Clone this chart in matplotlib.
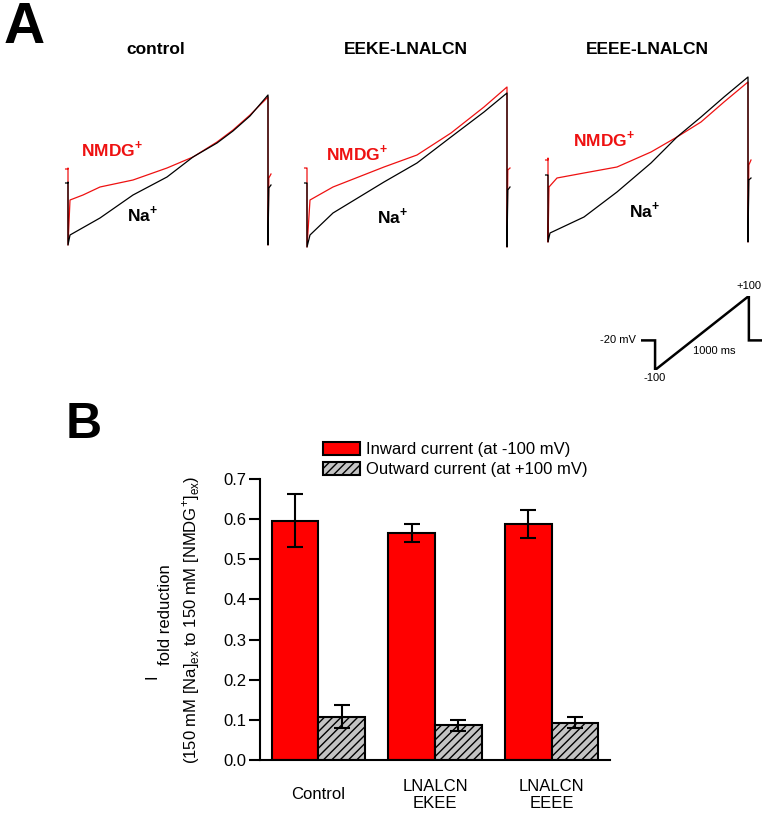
import numpy as np
import matplotlib
matplotlib.use("Agg")
import matplotlib.pyplot as plt

plt.rcParams['font.family'] = ['Liberation Sans', 'DejaVu Sans']
plt.rcParams['mathtext.fontset'] = 'custom'
plt.rcParams['mathtext.rm'] = 'Liberation Sans'
plt.rcParams['mathtext.bf'] = 'Liberation Sans:bold'
plt.rcParams['hatch.linewidth'] = 1.0

# --- panel A: ramp currents, time in ms from ramp start, current in a.u.
ctrl_t_nmdg = [-12, -1, 0, 0, 10, 75, 160, 325, 495, 625, 745, 825, 910, 1000, 1000, 1004, 1015]
ctrl_nmdg = [81, 81, 82, 5, 50, 55, 63, 70, 82, 93, 108, 120, 135, 153, 5, 72, 76]
ctrl_t_na = [-12, -1, 0, 0, 10, 160, 325, 495, 625, 745, 825, 910, 1000, 1000, 1004, 1015]
ctrl_na = [67, 67, 68, 5, 15, 32, 55, 73, 93, 107, 119, 134, 155, 5, 62, 65]

ekee_t_nmdg = [-12, -1, 0, 0, 15, 130, 385, 550, 720, 885, 1000, 1000, 1004, 1015]
ekee_nmdg = [82, 82, 82, 3, 50, 63, 83, 95, 117, 143, 163, 3, 80, 82]
ekee_t_na = [-12, -1, 0, 0, 15, 130, 385, 550, 720, 885, 1000, 1000, 1004, 1015]
ekee_na = [67, 67, 67, 3, 15, 37, 68, 87, 113, 138, 157, 3, 60, 63]

eeee_t_nmdg = [-12, -1, 0, 0, 5, 45, 180, 345, 515, 645, 765, 880, 1000, 1000, 1004, 1015]
eeee_nmdg = [90, 90, 92, 8, 63, 72, 77, 83, 98, 113, 128, 148, 168, 8, 85, 90]
eeee_t_na = [-12, -1, 0, 0, 10, 180, 345, 515, 645, 765, 880, 1000, 1000, 1004, 1015]
eeee_na = [75, 75, 75, 8, 17, 33, 58, 87, 113, 133, 153, 173, 8, 70, 72]

trace_titles = ['control', 'EEKE-LNALCN', 'EEEE-LNALCN']

# voltage protocol
prot_t = [-150, 0, 0, 1000, 1000, 1140]
prot_v = [-20, -20, -100, 100, -20, -20]

# --- panel B: fold reduction
groups = ['Control', 'LNALCN\nEKEE', 'LNALCN\nEEEE']
inward = [0.596, 0.565, 0.589]
inward_err = [0.066, 0.023, 0.035]
outward = [0.108, 0.086, 0.093]
outward_err = [0.028, 0.014, 0.013]

W, H = 768, 816
fig = plt.figure(figsize=(W / 100, H / 100), dpi=100)


def box(l, t, r, b):
    return [l / W, 1 - b / H, (r - l) / W, (b - t) / H]


def fxy(x, y):
    return x / W, 1 - y / H


RED = '#ee1111'

fig.text(*fxy(24, 28), 'A', fontsize=41, fontweight='bold', ha='center', va='center')

panels = [
    (62, 156, ctrl_t_nmdg, ctrl_nmdg, ctrl_t_na, ctrl_na, (220, 101), (375, 36)),
    (301, 406, ekee_t_nmdg, ekee_nmdg, ekee_t_na, ekee_na, (250, 97), (430, 34)),
    (542, 647, eeee_t_nmdg, eeee_nmdg, eeee_t_na, eeee_na, (280, 111), (485, 40)),
]
for i, (left, tx, tn, yn, ta, ya, pn, pa) in enumerate(panels):
    ax = fig.add_axes(box(left, 70, left + 218, 250))
    ax.plot(tn, yn, color=RED, lw=0.9)
    ax.plot(ta, ya, color='black', lw=0.9)
    ax.set_xlim(-30, 1060)
    ax.set_ylim(0, 180)
    ax.axis('off')
    ax.text(*pn, r'NMDG$^{\mathbf{+}}$', color=RED, fontsize=12.5, fontweight='bold',
            ha='center', va='center')
    ax.text(*pa, r'Na$^{\mathbf{+}}$', color='black', fontsize=12.5, fontweight='bold',
            ha='center', va='center')
    fig.text(*fxy(tx, 49), trace_titles[i], fontsize=12.5,
             fontweight='bold', ha='center', va='center')

# protocol inset
axp = fig.add_axes(box(641, 296, 762, 370))
axp.plot(prot_t, prot_v, color='black', lw=1.8, solid_joinstyle='miter')
axp.set_xlim(-150, 1140)
axp.set_ylim(-100, 100)
axp.axis('off')
axp.text(-200, -20, '-20 mV', fontsize=8, ha='right', va='center', clip_on=False)
axp.text(0, -122, '-100', fontsize=8, ha='center', va='center', clip_on=False)
axp.text(1000, 127, '+100', fontsize=8, ha='center', va='center', clip_on=False)
axp.text(630, -50, '1000 ms', fontsize=8, ha='center', va='center', clip_on=False)

# panel B
fig.text(*fxy(84, 425), 'B', fontsize=36, fontweight='bold', ha='center', va='center')

ax = fig.add_axes(box(260, 479, 610, 760))
x = np.arange(len(groups))
ax.bar(x - 0.2, inward, 0.4, color='#ff0000', edgecolor='black', lw=1.5,
       label='Inward current (at -100 mV)')
ax.bar(x + 0.2, outward, 0.4, color='#c4c4c4', edgecolor='black', lw=1.5, hatch='////',
       label='Outward current (at +100 mV)')
ax.errorbar(x - 0.2, inward, yerr=inward_err, fmt='none', ecolor='black',
            elinewidth=1.5, capsize=6, capthick=1.5)
ax.errorbar(x + 0.2, outward, yerr=outward_err, fmt='none', ecolor='black',
            elinewidth=1.5, capsize=6, capthick=1.5)
ax.set_xlim(-0.5, 2.5)
ax.set_ylim(0, 0.7)
ax.set_yticks(np.arange(0, 0.71, 0.1))
ax.set_yticklabels(['%.1f' % v for v in np.arange(0, 0.71, 0.1)])
ax.set_xticks(x)
ax.set_xticklabels(groups, linespacing=1.15)
for lbl in ax.get_xticklabels():
    lbl.set_va('center')
ax.tick_params(axis='x', length=0, pad=25, labelsize=12)
ax.tick_params(axis='y', direction='out', length=8, width=1.5, pad=2, labelsize=12)
for s in ['top', 'right']:
    ax.spines[s].set_visible(False)
for s in ['left', 'bottom']:
    ax.spines[s].set_linewidth(1.5)

ax.legend(loc='upper left', bbox_to_anchor=fxy(323, 442), bbox_transform=fig.transFigure,
          frameon=False, fontsize=12, borderpad=0, handlelength=2.2, handleheight=0.8,
          handletextpad=0.4, labelspacing=0.3, borderaxespad=0)

fig.text(*fxy(152, 677), 'I', fontsize=12, rotation=90, ha='center', va='center')
fig.text(*fxy(165, 615), 'fold reduction', fontsize=12, rotation=90, ha='center', va='center')
fig.text(*fxy(191, 620),
         r'(150 mM [Na]$_{\mathregular{ex}}$ to 150 mM [NMDG$^{\mathregular{+}}$]$_{\mathregular{ex}}$)',
         fontsize=12, rotation=90, ha='center', va='center')

fig.savefig('out.png', dpi=100)
